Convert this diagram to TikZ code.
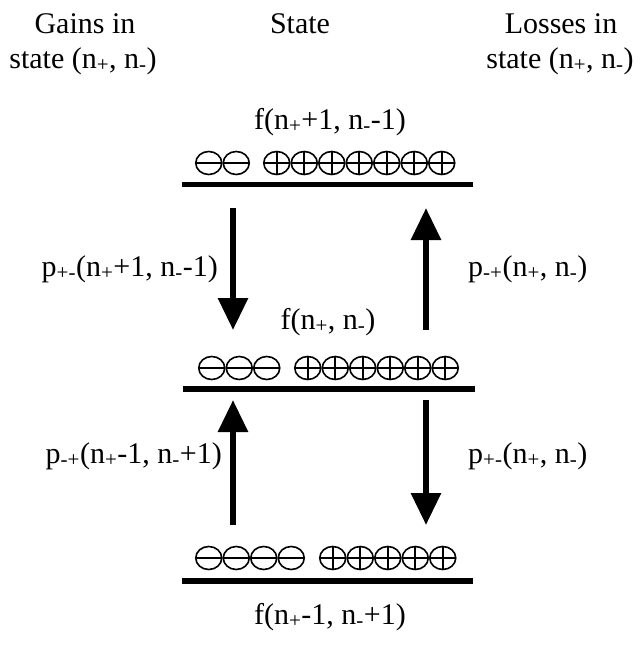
\documentclass[tikz,border=0pt]{standalone}
\usepackage{fontspec}
\setmainfont{Liberation Serif}
\usetikzlibrary{arrows.meta}
\newcommand{\sbs}[1]{\textsubscript{#1}}
\begin{document}
\begin{tikzpicture}[x=1pt,y=-1pt,
  lbl/.style={anchor=base, inner sep=0pt, font=\fontsize{30}{35}\selectfont},
  level/.style={line width=5.5pt},
  flow/.style={line width=6pt, -{Triangle[length=32pt,width=29pt]}},
  chg/.style={line width=1.6pt},
  chgminus/.pic={\draw[chg] (0,0) ellipse [x radius=13pt, y radius=11.5pt]; \draw[chg] (-13,0) -- (13,0);},
  chgplus/.pic={\draw[chg] (0,0) ellipse [x radius=13pt, y radius=11.5pt]; \draw[chg] (-13,0) -- (13,0); \draw[chg] (0,-11.5) -- (0,11.5);}]
\useasboundingbox (0,0) rectangle (640,649);
% headers
\node[lbl] (g1) at (85,33) {Gains in};
\node[lbl] (g2) at (83,68) {state (n\sbs{+}, n\sbs{-})};
\node[lbl] (st) at (300,33) {State};
\node[lbl] (l1) at (561,33) {Losses in};
\node[lbl] (l2) at (560,68) {state (n\sbs{+}, n\sbs{-})};
% state labels
\node[lbl] (f1) at (330,129) {f(n\sbs{+}+1, n\sbs{-}-1)};
\node[lbl] (f2) at (328,329) {f(n\sbs{+}, n\sbs{-})};
\node[lbl] (f3) at (330,624) {f(n\sbs{+}-1, n\sbs{-}+1)};
% levels
\coordinate (t1) at (182,184.5); \coordinate (t2) at (473,184.5);
\coordinate (m1) at (183,389); \coordinate (m2) at (475,389);
\coordinate (b1) at (182,581); \coordinate (b2) at (473,581);
\draw[level] (t1) -- (t2);
\draw[level] (m1) -- (m2);
\draw[level] (b1) -- (b2);
% charges
\foreach \x in {208.75,236.25} \pic at (\x,163) {chgminus};
\foreach \k in {0,...,6} \pic at (276.75+27.5*\k,163) {chgplus};
\foreach \k in {0,...,2} \pic at (211.75+27.5*\k,368) {chgminus};
\foreach \k in {0,...,5} \pic at (307.75+27.5*\k,368) {chgplus};
\foreach \k in {0,...,3} \pic at (208.75+27.5*\k,558) {chgminus};
\foreach \k in {0,...,4} \pic at (332.75+27.5*\k,558) {chgplus};
% arrows
\coordinate (a1s) at (233,208); \coordinate (a1e) at (233,330);
\coordinate (a2s) at (426,330); \coordinate (a2e) at (426,208);
\coordinate (a3s) at (233,525); \coordinate (a3e) at (233,400);
\coordinate (a4s) at (426,400); \coordinate (a4e) at (426,525);
\draw[flow] (a1s) -- (a1e);
\draw[flow] (a2s) -- (a2e);
\draw[flow] (a3s) -- (a3e);
\draw[flow] (a4s) -- (a4e);
% rate labels
\node[lbl, anchor=base east] (p1) at (218,276) {p\sbs{+-}(n\sbs{+}+1, n\sbs{-}-1)};
\node[lbl, anchor=base west] (p2) at (468,276) {p\sbs{-+}(n\sbs{+}, n\sbs{-})};
\node[lbl, anchor=base east] (p3) at (222,463) {p\sbs{-+}(n\sbs{+}-1, n\sbs{-}+1)};
\node[lbl, anchor=base west] (p4) at (468,463) {p\sbs{+-}(n\sbs{+}, n\sbs{-})};
\end{tikzpicture}
\end{document}
